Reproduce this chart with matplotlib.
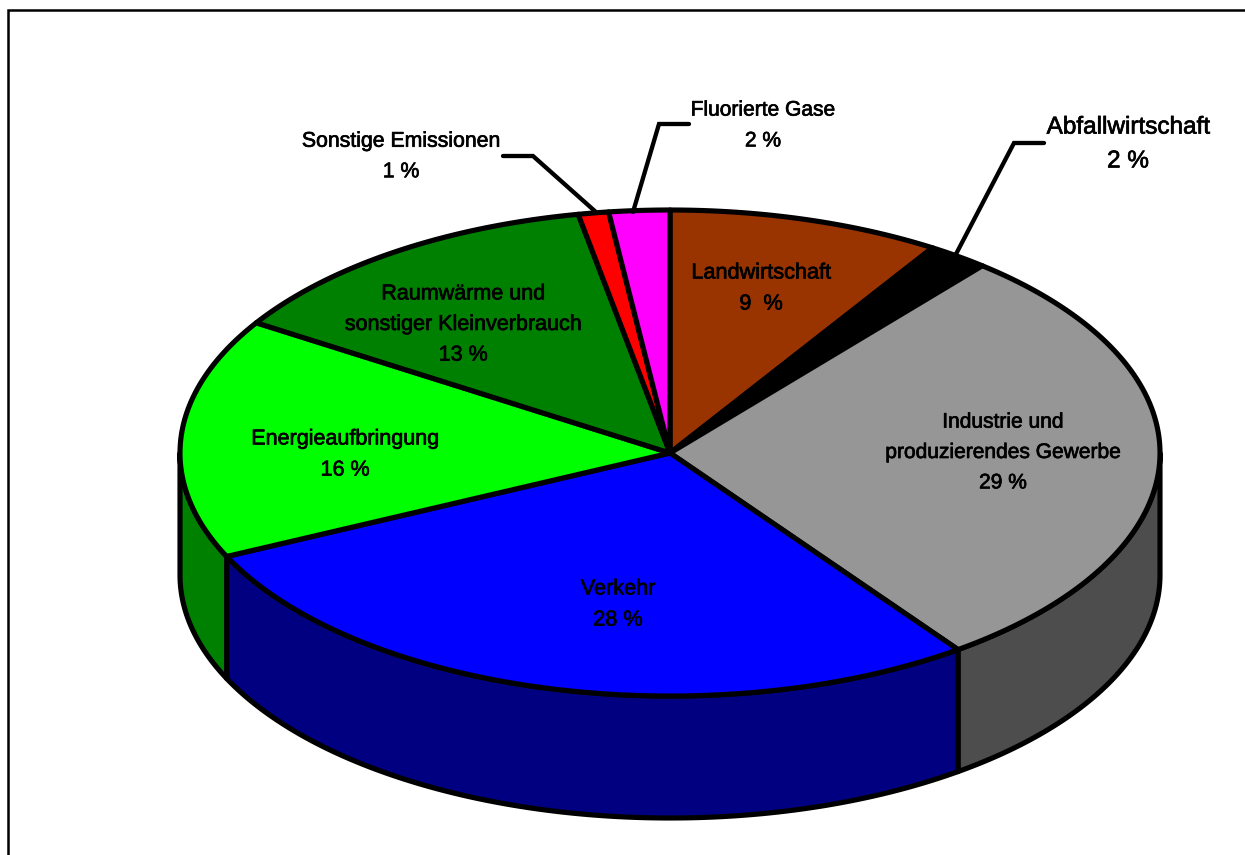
import numpy as np
import matplotlib
matplotlib.use("Agg")
import matplotlib.pyplot as plt
import matplotlib.patheffects as pe
from matplotlib.patches import Polygon

plt.rcParams['font.family'] = ['Liberation Sans', 'DejaVu Sans']

# clockwise from 12 o'clock
categories = ["Landwirtschaft", "Abfallwirtschaft", "Industrie und\nproduzierendes Gewerbe", "Verkehr",
              "Energieaufbringung", "Raumwärme und\nsonstiger Kleinverbrauch", "Sonstige Emissionen", "Fluorierte Gase"]
values = [9, 2, 29, 28, 16, 13, 1, 2]
value_labels = ["9  %", "2 %", "29 %", "28 %", "16 %", "13 %", "1 %", "2 %"]
top_colors = ['#993300', '#000000', '#969696', '#0000FF', '#00FF00', '#008000', '#FF0000', '#FF00FF']
side_colors = ['#4D1A00', '#000000', '#4D4D4D', '#000080', '#008000', '#004000', '#800000', '#800080']

label_x = [761, 1128, 1003, 618, 345, 463, 401, 763]
label_y = [288.5, 144.5, 452.5, 604.5, 454.5, 324.5, 156.5, 125.5]
label_size = [15.6, 17.5, 15.1, 15.6, 15.5, 15.5, 15.3, 15.1]
label_spacing = [1.63, 1.70, 1.76, 1.63, 1.63, 1.60, 1.77, 1.79]

# leader lines for the three small slices
leaders = {
    1: ([1044, 1014, 955], [143, 143, 256]),
    6: ([503, 533, 597], [156, 156, 213]),
    7: ([689, 659, 633], [124, 124, 212]),
}

cx, cy = 670, 453
rx, ry = 490, 243
depth = 122
lw = 3.7


def rim(a0, a1, dy=0):
    # points along the ellipse, angles in degrees clockwise from the top
    a = np.radians(np.linspace(a0, a1, max(int(abs(a1 - a0)) * 2, 2)))
    return np.column_stack([cx + rx * np.sin(a), cy - ry * np.cos(a) + dy])


fig = plt.figure(figsize=(12.45, 8.55), dpi=100)
ax = fig.add_axes([0, 0, 1, 1])
ax.set_xlim(0, 1245)
ax.set_ylim(855, 0)
ax.axis('off')

# frame, only left and top are in the picture
ax.plot([8, 8, 1245], [855, 10, 10], color='black', lw=1.8, solid_joinstyle='miter')

edges = np.concatenate([[0], np.cumsum(values)]) * 360 / sum(values)

# side wall first, only the front half shows
for i in range(len(values)):
    a0 = max(edges[i], 90)
    a1 = min(edges[i + 1], 270)
    if a1 <= a0:
        continue
    pts = np.vstack([rim(a0, a1), rim(a0, a1, depth)[::-1]])
    ax.add_patch(Polygon(pts, closed=True, fc=side_colors[i], ec='black', lw=lw, joinstyle='round', zorder=2))

# top of the pie
for i in range(len(values)):
    pts = np.vstack([[cx, cy], rim(edges[i], edges[i + 1])])
    ax.add_patch(Polygon(pts, closed=True, fc=top_colors[i], ec='black', lw=lw, joinstyle='round', zorder=3))

for i, (xs, ys) in leaders.items():
    ax.plot(xs, ys, color='black', lw=3.1, solid_capstyle='round', solid_joinstyle='miter', zorder=4)

for i in range(len(values)):
    t = ax.text(label_x[i], label_y[i], categories[i] + "\n" + value_labels[i], ha='center', va='center',
                fontsize=label_size[i], color='black', linespacing=label_spacing[i], zorder=5)
    # the original text is a bit heavier than the regular weight
    t.set_path_effects([pe.withStroke(linewidth=0.5, foreground='black')])

fig.savefig("out.png", dpi=100)
